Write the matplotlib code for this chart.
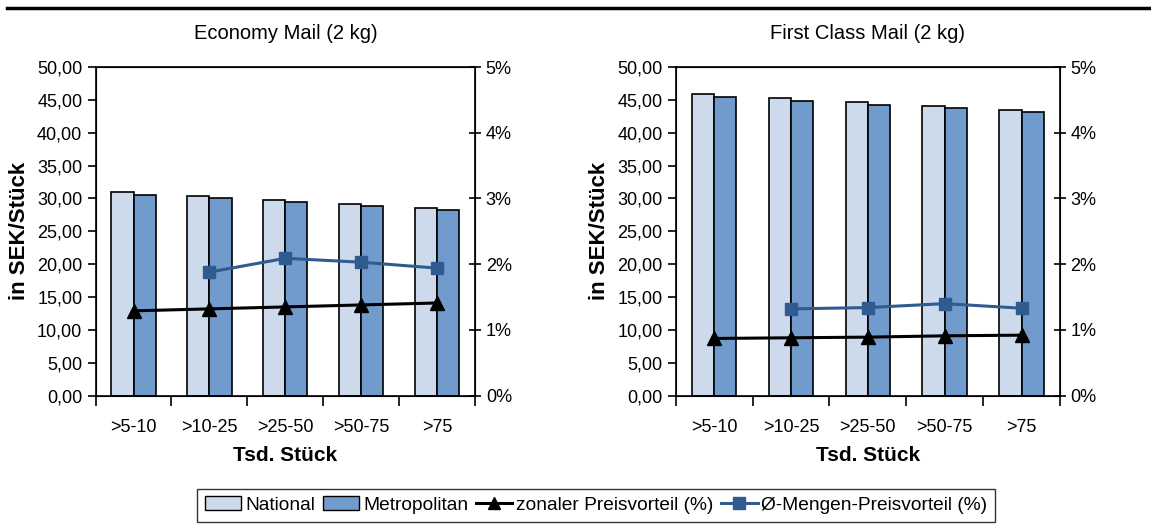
import numpy as np
import matplotlib
matplotlib.use('Agg')
import matplotlib.pyplot as plt
from matplotlib.ticker import FuncFormatter
from matplotlib.lines import Line2D

plt.rcParams['font.family'] = ['Liberation Sans', 'DejaVu Sans']

categories = ['>5-10', '>10-25', '>25-50', '>50-75', '>75']

# Economy Mail (2 kg)
eco_national = [31.0, 30.4, 29.8, 29.2, 28.6]
eco_metro = [30.6, 30.0, 29.4, 28.8, 28.2]
eco_zonal = [1.29, 1.32, 1.35, 1.38, 1.41]
eco_menge = [np.nan, 1.88, 2.09, 2.03, 1.94]

# First Class Mail (2 kg)
fc_national = [45.9, 45.3, 44.7, 44.1, 43.5]
fc_metro = [45.5, 44.9, 44.3, 43.7, 43.1]
fc_zonal = [0.87, 0.88, 0.89, 0.91, 0.92]
fc_menge = [np.nan, 1.32, 1.34, 1.40, 1.33]

c_nat = '#CCDAEB'
c_met = '#729BCD'
c_zon = '#000000'
c_men = '#2F5B90'

fig = plt.figure(figsize=(11.51, 5.24), dpi=100)
fs = 13

def panel(rect, title, nat, met, zon, men):
    ax = fig.add_axes(rect)
    x = np.arange(len(categories))
    w = 0.29
    ax.bar(x - w/2, nat, w, color=c_nat, edgecolor='black', linewidth=1.2, zorder=2)
    ax.bar(x + w/2, met, w, color=c_met, edgecolor='black', linewidth=1.2, zorder=2)
    ax.set_xlim(-0.5, len(categories) - 0.5)
    ax.set_ylim(0, 50)
    ax.set_yticks(np.arange(0, 51, 5))
    ax.yaxis.set_major_formatter(FuncFormatter(lambda v, p: f'{v:.2f}'.replace('.', ',')))
    ax.set_xticks(x)
    ax.set_xticklabels(categories, fontsize=fs)
    ax.tick_params(axis='x', length=0, pad=17)
    ax.set_xticks(np.arange(-0.5, len(categories)), minor=True)
    ax.tick_params(axis='x', which='minor', length=7, width=1.2, direction='out')
    ax.tick_params(axis='y', labelsize=fs, length=6, width=1.2, direction='out')
    for s in ax.spines.values():
        s.set_linewidth(1.2)
    ax.set_title(title, fontsize=14.5, pad=20)
    ax.set_ylabel('in SEK/Stück', fontsize=16, fontweight='bold', labelpad=5)
    ax.set_xlabel('Tsd. Stück', fontsize=15, fontweight='bold', labelpad=7)

    ax2 = ax.twinx()
    ax2.set_ylim(0, 5)
    ax2.set_yticks(np.arange(0, 6, 1))
    ax2.yaxis.set_major_formatter(FuncFormatter(lambda v, p: f'{int(v)}%'))
    ax2.tick_params(axis='y', labelsize=fs, length=8, width=1.2, direction='inout')
    ax2.plot(x, zon, color=c_zon, lw=2.2, marker='^', ms=10, zorder=3)
    ax2.plot(x, men, color=c_men, lw=2.2, marker='s', ms=9, zorder=3)
    return ax

panel([0.083, 0.245, 0.33, 0.627], 'Economy Mail (2 kg)',
      eco_national, eco_metro, eco_zonal, eco_menge)
panel([0.587, 0.245, 0.334, 0.627], 'First Class Mail (2 kg)',
      fc_national, fc_metro, fc_zonal, fc_menge)

# top rule
fig.add_artist(Line2D([0.006, 1.0], [0.985, 0.985], color='black', lw=2.5))

handles = [
    plt.Rectangle((0, 0), 1, 1, facecolor=c_nat, edgecolor='black'),
    plt.Rectangle((0, 0), 1, 1, facecolor=c_met, edgecolor='black'),
    Line2D([], [], color=c_zon, lw=2.2, marker='^', ms=9),
    Line2D([], [], color=c_men, lw=2.2, marker='s', ms=8),
]
labels = ['National', 'Metropolitan', 'zonaler Preisvorteil (%)', 'Ø-Mengen-Preisvorteil (%)']
leg = fig.legend(handles, labels, loc='center', bbox_to_anchor=(0.518, 0.036), ncol=4,
                 fontsize=13.8, frameon=True, fancybox=False, edgecolor='black',
                 handlelength=1.9, handletextpad=0.2, columnspacing=0.4,
                 borderpad=0.4)
leg.get_frame().set_linewidth(1.0)

fig.savefig('out.png', dpi=100)
